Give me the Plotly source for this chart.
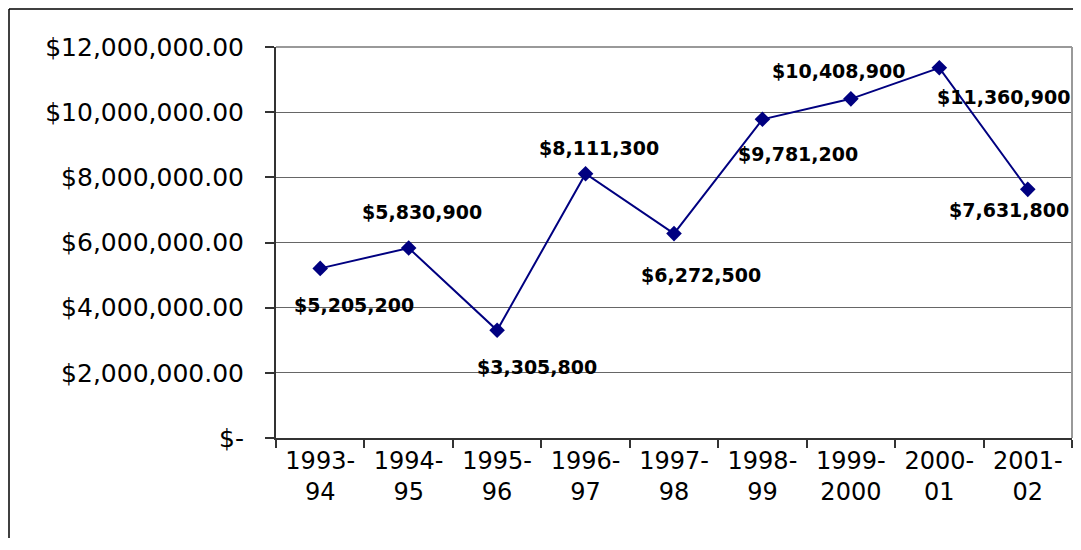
import plotly.graph_objects as go

categories = ["1993-<br>94", "1994-<br>95", "1995-<br>96", "1996-<br>97", "1997-<br>98",
              "1998-<br>99", "1999-<br>2000", "2000-<br>01", "2001-<br>02"]
values = [5205200, 5830900, 3305800, 8111300, 6272500, 9781200, 10408900, 11360900, 7631800]
y_tickvals = [0, 2000000, 4000000, 6000000, 8000000, 10000000, 12000000]
y_ticktext = ["$-", "$2,000,000.00", "$4,000,000.00", "$6,000,000.00", "$8,000,000.00",
              "$10,000,000.00", "$12,000,000.00"]

# label offsets in pixels (x right, y up) relative to each point
label_shifts = [(34, -37), (13, 36), (40, -37), (13, 26), (27, -41),
                (36, -35), (-12, 28), (64, -29), (-19, -21)]

FONT = "DejaVu Sans"

fig = go.Figure()
fig.add_trace(go.Scatter(
    x=categories, y=values, mode="lines+markers",
    line=dict(color="#000080", width=2),
    marker=dict(symbol="diamond", size=12, color="#000080"),
    showlegend=False, cliponaxis=False,
))

for c, v, (dx, dy) in zip(categories, values, label_shifts):
    fig.add_annotation(x=c, y=v, xref="x", yref="y", text="<b>$" + f"{v:,.0f}" + "</b>",
                       showarrow=False, xshift=dx, yshift=dy,
                       font=dict(family=FONT, size=19, color="black"))

# page body has an 8px margin; figure sized to fit inside it without scrollbars
W, H = 1065, 530
L, T = 268, 39
R = W - 1064
B = H - 430
pw, ph = W - L - R, H - T - B

fig.update_layout(
    width=W, height=H,
    margin=dict(l=L, r=R, t=T, b=B),
    paper_bgcolor="white", plot_bgcolor="white",
    font=dict(family=FONT, size=24, color="black"),
    xaxis=dict(type="category", range=[-0.5, 8.5], tickson="boundaries",
               ticks="outside", ticklen=8, tickcolor="#333", tickwidth=1.5,
               showline=True, linecolor="#333", linewidth=2, showgrid=False,
               tickfont=dict(family=FONT, size=24), fixedrange=True),
    yaxis=dict(range=[0, 12000000], tickvals=y_tickvals, ticktext=y_ticktext,
               ticks="outside", ticklen=9, tickcolor="#333", tickwidth=1.5,
               showline=True, linecolor="#333", linewidth=2,
               showgrid=True, gridcolor="#666", gridwidth=1,
               zeroline=False, ticklabelstandoff=16,
               tickfont=dict(family=FONT, size=25), fixedrange=True),
    shapes=[
        dict(type="line", xref="paper", yref="paper", x0=0, x1=1, y0=1, y1=1,
             line=dict(color="#999", width=2)),
        dict(type="line", xref="paper", yref="paper", x0=1, x1=1, y0=0, y1=1,
             line=dict(color="#999", width=2)),
        dict(type="line", xref="paper", yref="paper",
             x0=(1 - L) / pw, x1=(1 - L) / pw, y0=-1, y1=(H - B - 1) / ph,
             line=dict(color="black", width=1.5)),
        dict(type="line", xref="paper", yref="paper",
             x0=(1 - L) / pw, x1=1.2, y0=(H - B - 1) / ph, y1=(H - B - 1) / ph,
             line=dict(color="black", width=1.5)),
    ],
)

fig.write_html("out.html")
